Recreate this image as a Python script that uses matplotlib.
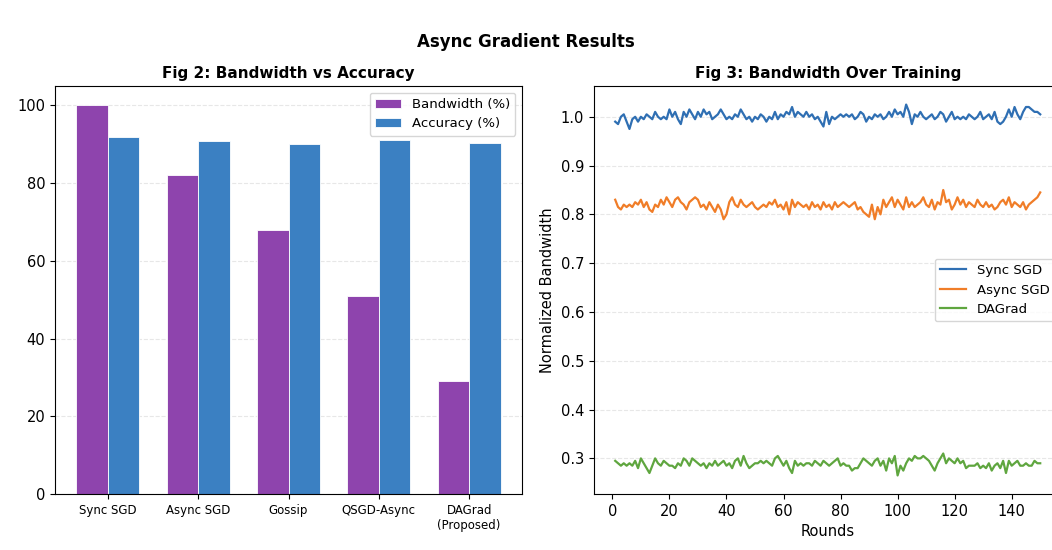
import numpy as np
import matplotlib
matplotlib.use("Agg")
import matplotlib.pyplot as plt

# Fig 2 data
methods = ['Sync SGD', 'Async SGD', 'Gossip', 'QSGD-Async', 'DAGrad\n(Proposed)']
bandwidth_pct = [100, 82, 68, 51, 29]
accuracy_pct = [91.8, 90.9, 90.2, 91.2, 90.3]

# Fig 3 data (normalized bandwidth per round)
rounds = np.arange(1, 151)
sync_bw = [
    0.990, 0.985, 1.000, 1.005, 0.990, 0.975, 0.995, 1.000, 0.990, 1.000,
    0.995, 1.005, 1.000, 0.995, 1.010, 1.000, 0.995, 1.000, 0.995, 1.015,
    1.000, 1.010, 0.995, 0.985, 1.010, 1.000, 1.015, 1.005, 0.995, 1.010,
    1.000, 1.015, 1.005, 1.010, 0.995, 1.000, 1.005, 1.015, 1.005, 0.995,
    1.000, 0.995, 1.005, 1.000, 1.015, 1.005, 0.995, 1.000, 0.990, 1.000,
    0.995, 1.005, 1.000, 0.990, 1.000, 0.995, 1.010, 0.995, 1.005, 1.000,
    1.010, 1.005, 1.020, 1.000, 1.010, 1.005, 1.000, 1.010, 1.000, 1.005,
    0.995, 1.000, 0.990, 0.980, 1.010, 0.985, 1.000, 0.995, 1.000, 1.005,
    1.000, 1.005, 1.000, 1.005, 0.995, 1.000, 1.010, 1.005, 0.990, 1.000,
    0.995, 1.005, 1.000, 1.005, 0.995, 1.000, 1.010, 1.000, 1.015, 1.005,
    1.010, 1.000, 1.025, 1.010, 0.985, 1.005, 1.000, 1.010, 1.000, 0.995,
    1.000, 1.005, 0.995, 1.000, 1.010, 1.005, 0.990, 1.000, 1.010, 0.995,
    1.000, 0.995, 1.000, 0.995, 1.005, 1.000, 0.995, 1.000, 1.010, 0.995,
    1.000, 1.005, 0.995, 1.010, 0.990, 0.985, 0.990, 1.000, 1.015, 1.000,
    1.020, 1.005, 0.995, 1.010, 1.020, 1.020, 1.015, 1.010, 1.010, 1.005,
]
async_bw = [
    0.830, 0.815, 0.810, 0.820, 0.815, 0.820, 0.815, 0.825, 0.820, 0.830,
    0.815, 0.825, 0.810, 0.805, 0.820, 0.815, 0.830, 0.820, 0.835, 0.825,
    0.815, 0.830, 0.835, 0.825, 0.820, 0.810, 0.825, 0.830, 0.835, 0.830,
    0.815, 0.820, 0.810, 0.825, 0.815, 0.805, 0.820, 0.810, 0.790, 0.800,
    0.825, 0.835, 0.820, 0.815, 0.830, 0.820, 0.815, 0.820, 0.825, 0.815,
    0.810, 0.815, 0.820, 0.815, 0.825, 0.820, 0.830, 0.815, 0.820, 0.810,
    0.825, 0.800, 0.830, 0.815, 0.825, 0.820, 0.815, 0.820, 0.810, 0.825,
    0.815, 0.820, 0.810, 0.825, 0.815, 0.820, 0.810, 0.825, 0.815, 0.820,
    0.825, 0.820, 0.815, 0.820, 0.825, 0.810, 0.815, 0.805, 0.800, 0.795,
    0.820, 0.790, 0.815, 0.800, 0.830, 0.815, 0.825, 0.835, 0.815, 0.830,
    0.820, 0.810, 0.835, 0.815, 0.825, 0.815, 0.820, 0.825, 0.835, 0.820,
    0.815, 0.830, 0.810, 0.825, 0.820, 0.850, 0.825, 0.830, 0.810, 0.820,
    0.835, 0.820, 0.830, 0.815, 0.825, 0.820, 0.815, 0.830, 0.820, 0.815,
    0.825, 0.815, 0.820, 0.810, 0.815, 0.825, 0.830, 0.820, 0.835, 0.815,
    0.825, 0.820, 0.815, 0.825, 0.810, 0.820, 0.825, 0.830, 0.835, 0.845,
]
dagrad_bw = [
    0.295, 0.290, 0.285, 0.290, 0.285, 0.290, 0.285, 0.295, 0.280, 0.300,
    0.290, 0.280, 0.270, 0.285, 0.300, 0.290, 0.285, 0.295, 0.290, 0.285,
    0.285, 0.280, 0.290, 0.285, 0.300, 0.295, 0.285, 0.300, 0.295, 0.290,
    0.285, 0.290, 0.280, 0.290, 0.285, 0.295, 0.285, 0.290, 0.295, 0.285,
    0.290, 0.280, 0.295, 0.300, 0.285, 0.305, 0.290, 0.280, 0.285, 0.290,
    0.290, 0.295, 0.290, 0.295, 0.290, 0.285, 0.300, 0.305, 0.295, 0.285,
    0.295, 0.280, 0.270, 0.295, 0.285, 0.290, 0.285, 0.290, 0.290, 0.285,
    0.295, 0.290, 0.285, 0.295, 0.290, 0.285, 0.290, 0.295, 0.300, 0.285,
    0.290, 0.285, 0.285, 0.275, 0.280, 0.280, 0.290, 0.300, 0.295, 0.290,
    0.285, 0.295, 0.300, 0.285, 0.295, 0.275, 0.300, 0.290, 0.305, 0.265,
    0.285, 0.275, 0.290, 0.300, 0.295, 0.305, 0.300, 0.300, 0.305, 0.300,
    0.295, 0.285, 0.275, 0.290, 0.300, 0.310, 0.290, 0.300, 0.295, 0.290,
    0.300, 0.290, 0.295, 0.280, 0.285, 0.285, 0.285, 0.290, 0.280, 0.285,
    0.280, 0.290, 0.275, 0.285, 0.290, 0.280, 0.295, 0.270, 0.295, 0.285,
    0.290, 0.295, 0.285, 0.285, 0.290, 0.285, 0.285, 0.295, 0.290, 0.290,
]

fig = plt.figure(figsize=(10.52, 5.5), dpi=100)
fig.suptitle('Async Gradient Results', fontsize=12, fontweight='bold', y=0.94)

# Fig 2: grouped bars
ax1 = fig.add_axes([0.0523, 0.1018, 0.4439, 0.7418])
x = np.arange(len(methods))
w = 0.35
ax1.bar(x - w / 2, bandwidth_pct, w, label='Bandwidth (%)', color='#8e44ad', edgecolor='white', linewidth=0.6)
ax1.bar(x + w / 2, accuracy_pct, w, label='Accuracy (%)', color='#3b80c2', edgecolor='white', linewidth=0.6)
ax1.set_xticks(x)
ax1.set_xticklabels(methods, fontsize=8.5)
ax1.tick_params(axis='y', labelsize=10.5)
ax1.set_title('Fig 2: Bandwidth vs Accuracy', fontsize=11, fontweight='bold')
ax1.grid(axis='y', linestyle='--', alpha=0.3)
ax1.set_axisbelow(True)
ax1.legend(loc='upper right', fontsize=9.5)

# Fig 3: lines over rounds (axes runs past the right edge, as in the reference)
ax2 = fig.add_axes([0.5646, 0.1018, 0.4444, 0.7418])
ax2.plot(rounds, sync_bw, label='Sync SGD', color='#2f6fb3', linewidth=1.6)
ax2.plot(rounds, async_bw, label='Async SGD', color='#f07d28', linewidth=1.6)
ax2.plot(rounds, dagrad_bw, label='DAGrad', color='#5fa63f', linewidth=1.6)
ax2.set_title('Fig 3: Bandwidth Over Training', fontsize=11, fontweight='bold')
ax2.set_xlabel('Rounds', fontsize=10.5)
ax2.set_ylabel('Normalized Bandwidth', fontsize=10.5)
ax2.tick_params(labelsize=10.5)
ax2.grid(axis='y', linestyle='--', alpha=0.3)
ax2.legend(loc='center right', fontsize=9.5)

fig.savefig('out.png', dpi=100)
